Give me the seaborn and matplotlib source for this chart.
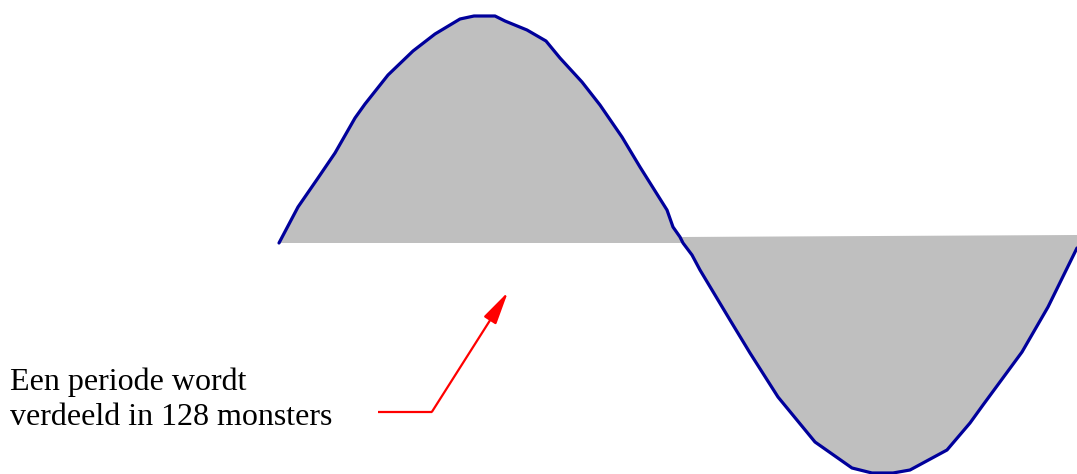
import matplotlib
matplotlib.use("Agg")
import matplotlib.pyplot as plt
import seaborn as sns
import pandas as pd

sns.set_style("white")
plt.rcParams['font.family'] = ['Liberation Serif', 'DejaVu Serif']

curve_x = [279, 298, 318, 335, 355, 365, 388, 413, 435, 460, 474, 495, 505, 527, 546,
           560, 582, 600, 622, 640, 667, 673, 680, 683, 692, 700, 730, 750, 778,
           815, 852, 872, 893, 910, 947, 970, 983, 1022, 1048, 1077]
curve_y = [243, 207, 178, 153, 118, 104, 75, 51, 34, 19, 16, 16, 21, 30, 41,
           58, 82, 105, 137, 167, 210, 227, 237, 243, 255, 270, 320, 353, 397,
           442, 468, 473, 473, 470, 450, 423, 405, 352, 307, 248]

# baselines of the two filled halves
upper_base_y = [243, 243]
lower_base_x = [680, 1077]
lower_base_y = [237, 235]

label_lines = ["Een periode wordt", "verdeeld in 128 monsters"]
label_x = 10
label_baselines = [390, 425]

arrow_x = [378, 432, 508]
arrow_y = [411.7, 411.7, 292]

df = pd.DataFrame({"x": curve_x, "y": curve_y})
split = curve_x.index(683)
cross = curve_x.index(680)

fig = plt.figure(figsize=(10.77, 4.74), dpi=100)
ax = fig.add_axes([0, 0, 1, 1])

# positive half
up_x = curve_x[:split + 1] + [curve_x[split], curve_x[0]]
up_y = curve_y[:split + 1] + upper_base_y
ax.fill(up_x, up_y, color="#bfbfbf", lw=0, zorder=1)

# negative half
lo_x = curve_x[cross:] + lower_base_x[::-1]
lo_y = curve_y[cross:] + lower_base_y[::-1]
ax.fill(lo_x, lo_y, color="#bfbfbf", lw=0, zorder=1)

sns.lineplot(data=df, x="x", y="y", sort=False, estimator=None,
             color="#00009b", lw=2.3, ax=ax, zorder=3)

for txt, yb in zip(label_lines, label_baselines):
    ax.text(label_x, yb, txt, fontsize=23, color="black", va="baseline", ha="left")

ax.plot(arrow_x[:2], arrow_y[:2], color="red", lw=1.6, solid_capstyle="butt")
ax.annotate("", xy=(arrow_x[2], arrow_y[2]), xytext=(arrow_x[1], arrow_y[1]),
            arrowprops=dict(arrowstyle="-|>,head_length=1.0,head_width=0.22",
                            mutation_scale=20, color="red", lw=1.6,
                            shrinkA=0, shrinkB=0))

ax.set_xlim(0, 1077)
ax.set_ylim(474, 0)
ax.set_axis_off()

fig.savefig("out.png", dpi=100)
